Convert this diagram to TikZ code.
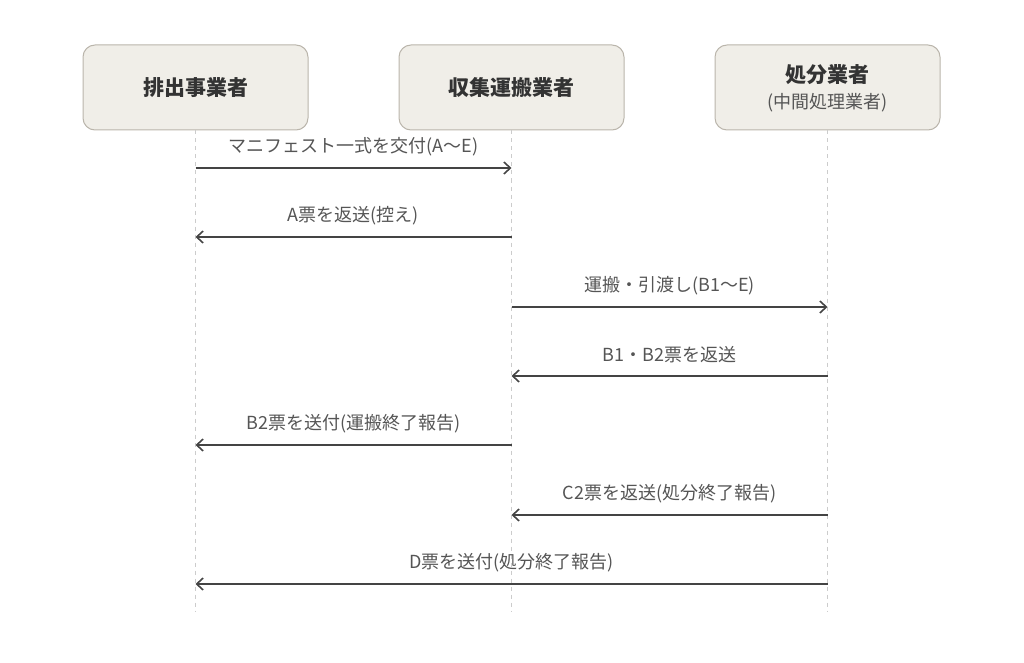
\documentclass[tikz,border=0pt]{standalone}
\usepackage{fontspec}
\setmainfont{Noto Sans CJK JP}
\usetikzlibrary{arrows.meta}
\definecolor{boxfill}{HTML}{F0EEE8}
\definecolor{boxline}{HTML}{BAB5AB}
\definecolor{lifeline}{HTML}{CCCCCC}
\definecolor{arrowc}{HTML}{444444}
\definecolor{labelc}{HTML}{555555}
\definecolor{titlec}{HTML}{333333}
\begin{document}
\begin{tikzpicture}[x=1pt,y=-1pt,
  actor/.style={draw=boxline, line width=1pt, fill=boxfill, rounded corners=12pt, minimum width=225pt, minimum height=85pt, inner sep=0pt, align=center, text=titlec},
  ttl/.style={text=titlec, font=\fontsize{21}{24}\selectfont\bfseries, inner sep=0pt},
  life/.style={draw=lifeline, line width=0.9pt, dash pattern=on 4pt off 4pt},
  msg/.style={draw=arrowc, line width=1.8pt, -{Straight Barb[length=6.5pt,width=12pt,line width=1.6pt]}},
  lbl/.style={text=labelc, font=\fontsize{18}{21}\selectfont, inner sep=0pt, yshift=21pt}]
\useasboundingbox (0,0) rectangle (1024,663);
\node[actor] (a) at (195.5,87.5) {};
\node[actor] (b) at (511.5,87.5) {};
\node[actor] (c) at (827.5,87.5) {};
\node[ttl] (at) at (a.center) {排出事業者};
\node[ttl] (bt) at (b.center) {収集運搬業者};
\node[ttl] (ct) at (827.5,75) {処分業者};
\node[text=labelc, font=\fontsize{18}{21}\selectfont, inner sep=0pt] (cs) at (827.5,103) {(中間処理業者)};
\coordinate (aend) at (195.5,612);
\coordinate (bend) at (511.5,612);
\coordinate (cend) at (827.5,612);
\draw[life] (a.south) -- (aend);
\draw[life] (b.south) -- (bend);
\draw[life] (c.south) -- (cend);
\foreach \n/\y in {1/168,2/237,3/307,4/376,5/445,6/515,7/584}{
  \coordinate (a\n) at (195.5,\y);
  \coordinate (b\n) at (511.5,\y);
  \coordinate (c\n) at (827.5,\y);
}
\draw[msg] (a1) -- node[lbl] (l1) {マニフェスト一式を交付(A〜E)} (b1);
\draw[msg] (b2) -- node[lbl] (l2) {A票を返送(控え)} (a2);
\draw[msg] (b3) -- node[lbl] (l3) {運搬・引渡し(B1〜E)} (c3);
\draw[msg] (c4) -- node[lbl] (l4) {B1・B2票を返送} (b4);
\draw[msg] (b5) -- node[lbl] (l5) {B2票を送付(運搬終了報告)} (a5);
\draw[msg] (c6) -- node[lbl] (l6) {C2票を返送(処分終了報告)} (b6);
\draw[msg] (c7) -- node[lbl] (l7) {D票を送付(処分終了報告)} (a7);
\end{tikzpicture}
\end{document}
